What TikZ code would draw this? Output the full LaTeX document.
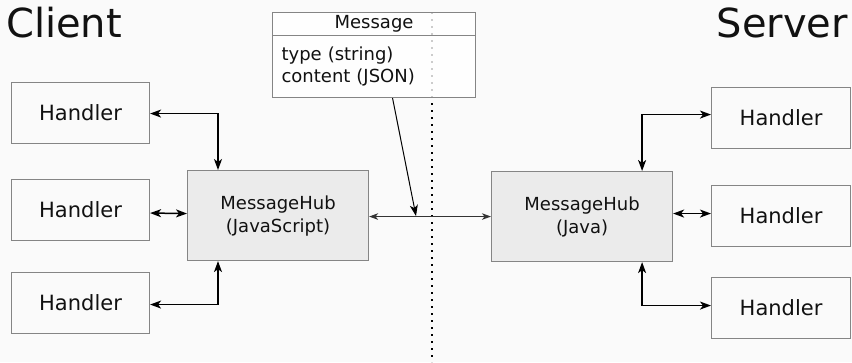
\documentclass[tikz,border=0pt]{standalone}
\usepackage{fontspec}
\setmainfont{DejaVu Sans}
\usetikzlibrary{arrows.meta}
\definecolor{bg}{HTML}{FAFAFA}
\definecolor{hubfill}{HTML}{EBEBEB}
\definecolor{edge}{HTML}{858585}
\definecolor{ink}{HTML}{111111}
\tikzset{
  handlerbox/.style={draw=edge, line width=1.1pt, fill=bg, anchor=north west,
    minimum width=138pt, minimum height=61pt, inner sep=0pt, text=ink,
    font=\fontsize{21}{25}\selectfont},
  hubbox/.style={draw=edge, line width=1.1pt, fill=hubfill, anchor=north west,
    minimum width=181pt, minimum height=90pt, inner sep=0pt, align=center, text=ink,
    font=\fontsize{18}{23}\selectfont},
  bigtip/.tip={Stealth[length=11pt, width=8pt, inset=3pt]},
  smalltip/.tip={Stealth[length=9pt, width=6.5pt, inset=2.5pt]},
  biarrow/.style={line width=1.5pt, black, bigtip-bigtip},
  title/.style={inner sep=0pt, text=ink, font=\fontsize{40}{48}\selectfont},
}
\begin{document}
\begin{tikzpicture}[x=1pt, y=-1pt]
  % canvas
  \fill[bg] (0,0) rectangle (852,362);
  \useasboundingbox (0,0) rectangle (852,362);

  % client / server boundary
  \draw[line width=1.4pt, black, dash pattern=on 2pt off 5pt] (432,12) -- (432,362);

  % headings
  \node[title, anchor=base west] (client) at (6,37) {Client};
  \node[title, anchor=base east] (server) at (848,37) {Server};

  % message record
  \node[draw=edge, line width=1.1pt, fill=white, fill opacity=0.8, text opacity=1,
        anchor=north west, minimum width=203pt, minimum height=23pt, inner sep=0pt,
        text=ink, font=\fontsize{18}{22}\selectfont] (msghead) at (272,12) {Message};
  \node[draw=edge, line width=1.1pt, fill=white, fill opacity=0.8, text opacity=1,
        anchor=north west, minimum width=203pt, minimum height=62pt, inner xsep=9pt,
        inner ysep=0pt, text width=185pt, align=left, text=ink,
        font=\fontsize{18}{22}\selectfont] (msgbody) at (272,35)
        {type (string)\\content (JSON)};

  % client side
  \node[handlerbox] (lh1) at (11,82)  {Handler};
  \node[handlerbox] (lh2) at (11,179) {Handler};
  \node[handlerbox] (lh3) at (11,272) {Handler};
  \node[hubbox] (lhub) at (187,170) {MessageHub\\(JavaScript)};

  % server side
  \node[handlerbox, minimum width=139pt] (rh1) at (711,87)  {Handler};
  \node[handlerbox, minimum width=139pt] (rh2) at (711,185) {Handler};
  \node[handlerbox, minimum width=139pt] (rh3) at (711,277) {Handler};
  \node[hubbox] (rhub) at (491,171) {MessageHub\\(Java)};

  % client connectors
  \draw[biarrow] ([yshift=-0.5pt]lh1.east) -| ([xshift=31pt]lhub.north west);
  \draw[biarrow] ([yshift=-3pt]lh2.east) -- ([yshift=2pt]lhub.west);
  \draw[biarrow] ([yshift=-1.5pt]lh3.east) -| ([xshift=31pt]lhub.south west);

  % server connectors
  \draw[biarrow] ([yshift=3.5pt]rh1.west) -| ([xshift=-31pt]rhub.north east);
  \draw[biarrow] ([yshift=2.5pt]rh2.west) -- ([yshift=3pt]rhub.east);
  \draw[biarrow] ([yshift=2.5pt]rh3.west) -| ([xshift=-31pt]rhub.south east);

  % link between the hubs
  \draw[line width=1.2pt, black!80, smalltip-smalltip]
    ([yshift=-1pt]lhub.east) -- (rhub.west);

  % message travels over the link
  \coordinate (tap) at (416,216);
  \draw[line width=1pt, black, -{Stealth[length=11pt, width=8pt, inset=3pt]}]
    ([xshift=18.5pt]msgbody.south) -- (tap);
\end{tikzpicture}
\end{document}
